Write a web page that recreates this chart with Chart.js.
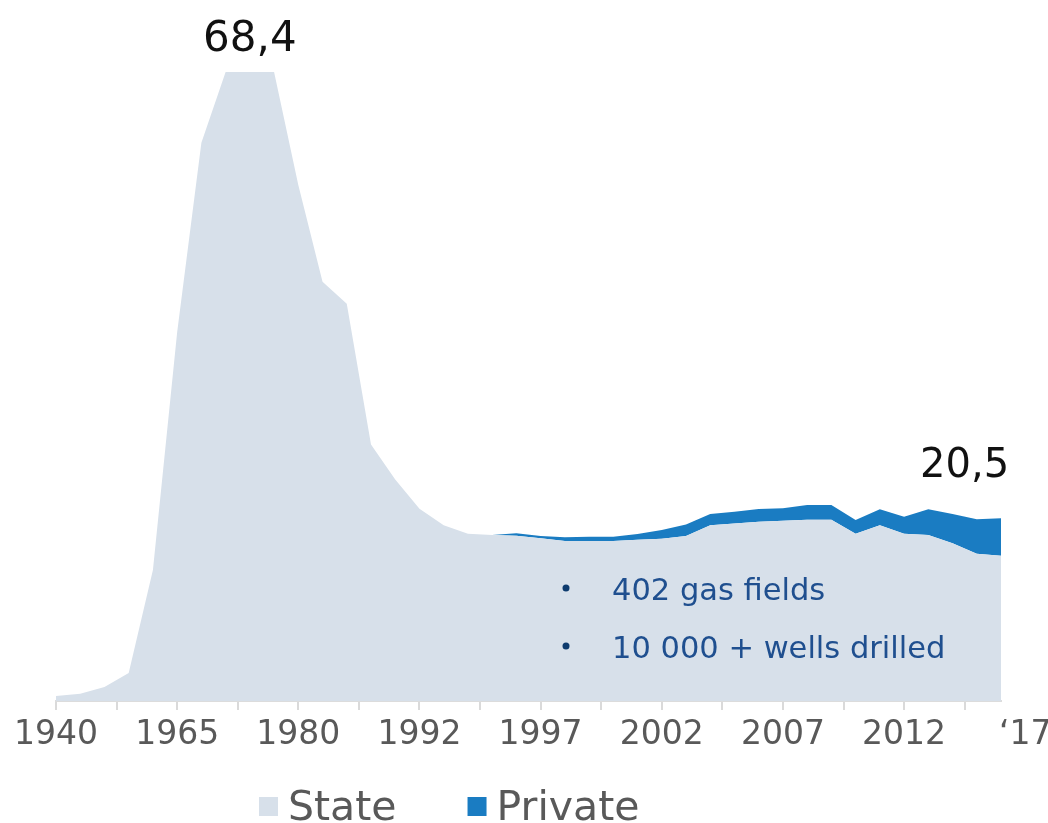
<!DOCTYPE html>
<html><head><meta charset="utf-8">
<script src="https://cdn.jsdelivr.net/npm/chart.js@4.4.1/dist/chart.umd.min.js"></script>
<style>html,body{margin:0;padding:0;background:#fff;}</style>
</head><body>
<canvas id="c" width="1048" height="823"></canvas>
<script>
const seriesNames = ['State', 'Private'];
const tickLabels = ['1940','','1965','','1980','','1992','','1997','','2002','','2007','','2012','','\u201817'];
const stateValues = [0.54,0.80,1.52,3.04,14.25,40.1,60.7,68.4,68.4,68.4,
  56.1,45.6,43.2,27.9,24.1,20.9,19.1,18.2,18.05,17.97,
  17.7,17.4,17.4,17.4,17.54,17.65,17.94,19.1,19.3,19.5,
  19.6,19.7,19.7,18.2,19.1,18.2,18.05,17.15,16.0,15.8];
const privateValues = [0,0,0,0,0,0,0,0,0,0,
  0,0,0,0,0,0,0,0,0,0.27,
  0.24,0.4,0.47,0.47,0.62,0.95,1.26,1.23,1.28,1.38,
  1.36,1.61,1.61,1.48,1.75,1.84,2.8,3.18,3.76,4.07];
const peakLabel = '68,4';
const lastLabel = '20,5';
const notes = ['402 gas fields', '10 000 + wells drilled'];

const FONT = "'DejaVu Sans', sans-serif";
const colors = ['#d7e0ea', '#1a7cc2'];

const annotPlugin = {
  id: 'annot',
  afterDatasetsDraw(chart) {
    const {ctx, scales: {x, y}} = chart;
    ctx.save();
    ctx.fillStyle = '#111';
    ctx.textAlign = 'center';
    ctx.textBaseline = 'alphabetic';
    const peakIdx = stateValues.indexOf(Math.max(...stateValues)) + 1;
    ctx.font = '42px ' + FONT;
    ctx.fillText(peakLabel, x.getPixelForValue(peakIdx), y.getPixelForValue(Math.max(...stateValues)) - 21);
    const n = stateValues.length - 1;
    ctx.font = '40px ' + FONT;
    ctx.fillText(lastLabel, x.getPixelForValue(n - 1.5), y.getPixelForValue(stateValues[n] + privateValues[n]) - 41);
    // bullet notes
    ctx.textAlign = 'left';
    ctx.font = '30.5px ' + FONT;
    const base = [600, 658];
    notes.forEach((t, i) => {
      ctx.fillStyle = '#0d3b6e';
      ctx.beginPath();
      ctx.arc(566, base[i] - 12, 3.5, 0, Math.PI * 2);
      ctx.fill();
      ctx.fillStyle = '#1f4f8f';
      ctx.fillText(t, 612, base[i]);
    });
    // legend
    ctx.font = '41px ' + FONT;
    let lx = 259;
    seriesNames.forEach((name, i) => {
      ctx.fillStyle = colors[i];
      ctx.fillRect(lx, 797, 19, 19);
      ctx.fillStyle = '#595959';
      ctx.fillText(name, lx + 29, 820);
      lx += 29 + ctx.measureText(name).width + 71;
    });
    ctx.restore();
  }
};

new Chart(document.getElementById('c'), {
  type: 'line',
  data: {
    datasets: [
      { label: seriesNames[0], data: stateValues.map((v, i) => ({x: i, y: v})),
        backgroundColor: colors[0], borderWidth: 0, pointRadius: 0, fill: 'origin', tension: 0 },
      { label: seriesNames[1], data: privateValues.map((v, i) => ({x: i, y: v})),
        backgroundColor: colors[1], borderWidth: 0, pointRadius: 0, fill: '-1', tension: 0 }
    ]
  },
  options: {
    responsive: false,
    animation: false,
    layout: { padding: { left: 56, right: 47, top: 72, bottom: 36 } },
    plugins: { legend: { display: false }, tooltip: { enabled: false } },
    scales: {
      x: {
        type: 'linear', min: 0, max: stateValues.length - 1,
        afterBuildTicks: s => { s.ticks = tickLabels.map((t, k) => ({ value: k * 2.5 })); },
        afterFit: s => { s.height = 86; s.paddingLeft = 0; s.paddingRight = 0; },
        grid: { drawOnChartArea: false, drawTicks: true, tickLength: 9, lineWidth: 2,
          tickColor: c => (c.index === tickLabels.length - 1 ? 'rgba(0,0,0,0)' : '#dadada') },
        border: { display: true, color: '#dcdcdc', width: 2 },
        ticks: { autoSkip: false, maxRotation: 0, minRotation: 0, padding: 6, color: '#595959',
          font: { family: FONT, size: 33 }, callback: (v, i) => tickLabels[i] }
      },
      y: { stacked: true, display: false, min: 0, max: 68.4 }
    }
  },
  plugins: [annotPlugin]
});
</script>
</body></html>
